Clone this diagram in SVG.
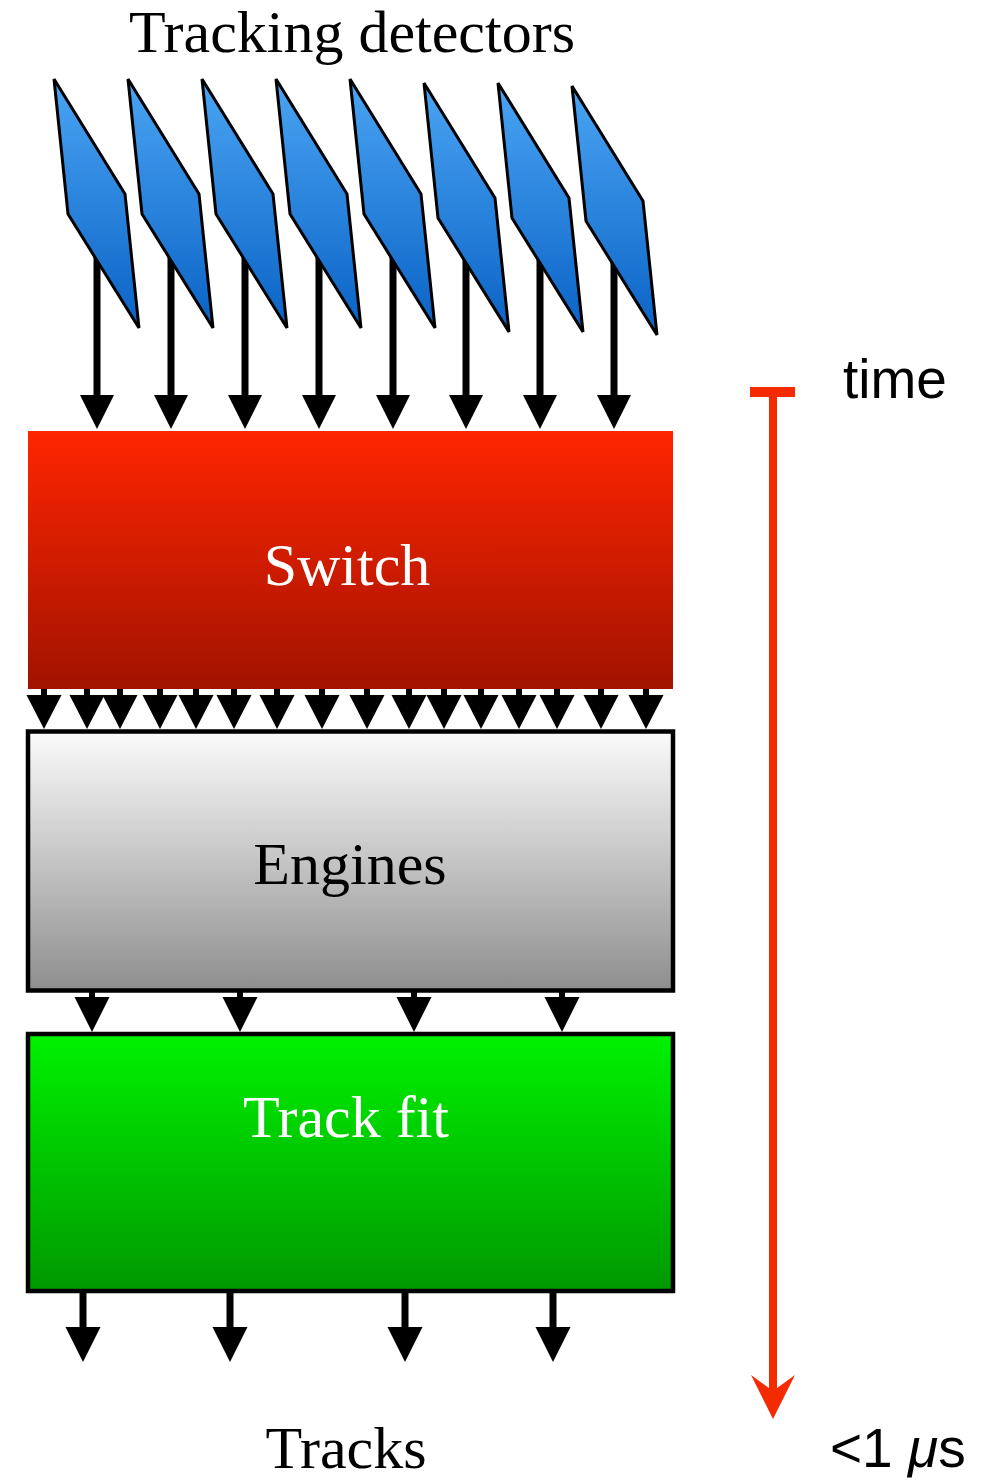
<svg xmlns="http://www.w3.org/2000/svg" width="1002" height="1480" viewBox="0 0 1002 1480">
<defs>
<linearGradient id="gBlue" x1="0" y1="0" x2="0" y2="1"><stop offset="0" stop-color="#4ba5f3"/><stop offset="1" stop-color="#0a62c5"/></linearGradient>
<linearGradient id="gRed" x1="0" y1="0" x2="0" y2="1"><stop offset="0" stop-color="#ff2500"/><stop offset="1" stop-color="#a11300"/></linearGradient>
<linearGradient id="gGray" x1="0" y1="0" x2="0" y2="1"><stop offset="0" stop-color="#fbfbfb"/><stop offset="1" stop-color="#8e8e8e"/></linearGradient>
<linearGradient id="gGreen" x1="0" y1="0" x2="0" y2="1"><stop offset="0" stop-color="#00f200"/><stop offset="1" stop-color="#009800"/></linearGradient>
<g id="det"><polygon points="54,79 125,194 139,328 68,214" fill="url(#gBlue)" stroke="#000" stroke-width="3" stroke-linejoin="miter"/></g>
<g id="arrL"><line x1="0" y1="240" x2="0" y2="397" stroke="#000" stroke-width="7"/><polygon points="-17,395 17,395 0,429" fill="#000"/></g>
<g id="arrS"><line x1="0" y1="688" x2="0" y2="697" stroke="#000" stroke-width="6"/><polygon points="-17.5,695 17.5,695 0,729" fill="#000"/></g>
<g id="arrE"><line x1="0" y1="992" x2="0" y2="999" stroke="#000" stroke-width="6"/><polygon points="-17.5,997 17.5,997 0,1032" fill="#000"/></g>
<g id="arrT"><line x1="0" y1="1292" x2="0" y2="1329" stroke="#000" stroke-width="7"/><polygon points="-17.5,1327 17.5,1327 0,1362" fill="#000"/></g>
</defs>
<style>
.serif{font-family:"Liberation Serif","DejaVu Serif",serif;font-size:60px;text-anchor:middle}
.sans{font-family:"Liberation Sans",Arial,sans-serif;font-size:55px}
</style>
<rect width="1002" height="1480" fill="#fff"/>
<g id="connectors">
<use href="#arrL" x="97"/><use href="#arrL" x="171"/><use href="#arrL" x="245"/><use href="#arrL" x="319"/>
<use href="#arrL" x="393"/><use href="#arrL" x="466"/><use href="#arrL" x="540"/><use href="#arrL" x="614"/>
<use href="#arrS" x="44"/><use href="#arrS" x="87"/><use href="#arrS" x="120"/><use href="#arrS" x="160"/>
<use href="#arrS" x="196"/><use href="#arrS" x="234"/><use href="#arrS" x="277"/><use href="#arrS" x="322"/>
<use href="#arrS" x="367"/><use href="#arrS" x="409"/><use href="#arrS" x="444"/><use href="#arrS" x="481"/>
<use href="#arrS" x="519"/><use href="#arrS" x="557"/><use href="#arrS" x="601"/><use href="#arrS" x="646"/>
<use href="#arrE" x="92"/><use href="#arrE" x="240"/><use href="#arrE" x="414"/><use href="#arrE" x="562"/>
<use href="#arrT" x="83"/><use href="#arrT" x="230"/><use href="#arrT" x="405"/><use href="#arrT" x="553"/>
</g>
<g id="detectors">
<use href="#det"/><use href="#det" x="74"/><use href="#det" x="148"/><use href="#det" x="222"/>
<use href="#det" x="296"/><use href="#det" x="370" y="4"/><use href="#det" x="444" y="4"/><use href="#det" x="518" y="7"/>
<text class="serif" x="352" y="52" font-size="58.5">Tracking detectors</text>
</g>
<g id="switch">
<rect x="28" y="431" width="645" height="258" fill="url(#gRed)"/>
<text class="serif" x="347" y="585" fill="#fff">Switch</text>
</g>
<g id="engines">
<rect x="28" y="731.5" width="645" height="259" fill="url(#gGray)" stroke="#000" stroke-width="4.5"/>
<text class="serif" x="350" y="884" fill="#000" font-size="62">Engines</text>
</g>
<g id="trackfit">
<rect x="28" y="1034" width="645" height="257" fill="url(#gGreen)" stroke="#000" stroke-width="4.5"/>
<text class="serif" x="346" y="1137" fill="#fff" font-size="62">Track fit</text>
</g>
<g id="tracks">
<text class="serif" x="346" y="1468" fill="#000" font-size="59">Tracks</text>
</g>
<g id="timeaxis">
<rect x="750" y="387" width="45" height="10" fill="#f42a00"/>
<line x1="773" y1="392" x2="773" y2="1392" stroke="#f42a00" stroke-width="8"/>
<polygon points="751,1375 773,1391 795,1375 773,1419" fill="#f42a00"/>
<text class="sans" x="843" y="398">time</text>
<text class="sans" x="830" y="1467" font-size="56">&lt;1 <tspan font-style="italic">μ</tspan>s</text>
</g>
</svg>
